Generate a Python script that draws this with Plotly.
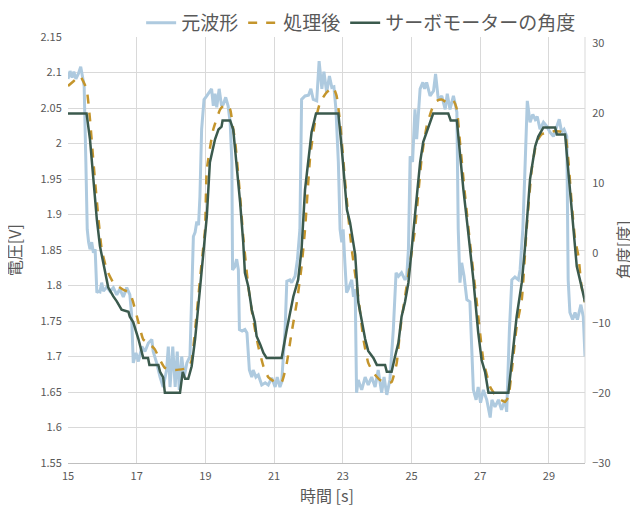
import plotly.graph_objects as go

# ---- data ----
raw_t = [15.00,15.06,15.12,15.17,15.23,15.30,15.37,15.43,15.47,15.52,15.56,15.60,15.64,15.69,15.74,15.79,
         15.84,15.88,15.93,15.98,16.03,16.13,16.22,16.32,16.42,16.51,16.61,16.71,16.80,16.85,16.90,16.98,
         17.05,17.15,17.24,17.34,17.44,17.48,17.58,17.68,17.77,17.87,17.92,17.97,18.05,18.12,18.18,18.24,
         18.31,18.38,18.46,18.55,18.60,18.65,18.70,18.75,18.80,18.84,18.89,18.96,19.04,19.13,19.18,19.23,
         19.28,19.33,19.40,19.47,19.52,19.59,19.66,19.72,19.77,19.79,19.85,19.91,19.96,19.99,20.07,20.15,
         20.21,20.28,20.35,20.39,20.47,20.54,20.64,20.74,20.83,20.93,21.03,21.09,21.17,21.22,21.32,21.37,
         21.46,21.51,21.61,21.68,21.75,21.80,21.90,22.00,22.07,22.14,22.24,22.31,22.39,22.45,22.53,22.61,
         22.68,22.74,22.80,22.87,22.92,22.97,23.01,23.06,23.11,23.16,23.26,23.31,23.36,23.40,23.45,23.55,
         23.65,23.74,23.84,23.94,24.03,24.13,24.20,24.28,24.37,24.47,24.55,24.62,24.71,24.81,24.86,24.91,
         24.96,25.03,25.10,25.15,25.20,25.25,25.33,25.38,25.44,25.54,25.64,25.70,25.78,25.88,25.98,26.04,
         26.12,26.22,26.32,26.36,26.41,26.46,26.53,26.61,26.70,26.80,26.88,26.94,27.01,27.09,27.19,27.29,
         27.34,27.43,27.53,27.62,27.72,27.77,27.85,27.92,28.01,28.11,28.16,28.24,28.30,28.37,28.45,28.53,
         28.60,28.66,28.74,28.84,28.94,29.03,29.13,29.23,29.30,29.37,29.44,29.52,29.56,29.61,29.69,29.76,
         29.83,29.93,30.00,30.05]
raw_v = [2.091,2.102,2.093,2.101,2.091,2.098,2.108,2.091,2.081,1.974,1.879,1.861,1.851,1.861,1.846,1.851,
         1.790,1.792,1.791,1.804,1.792,1.798,1.792,1.797,1.787,1.795,1.784,1.797,1.787,1.760,1.691,1.705,
         1.693,1.714,1.707,1.719,1.724,1.707,1.691,1.671,1.657,1.681,1.714,1.657,1.714,1.657,1.707,1.653,
         1.700,1.671,1.691,1.700,1.784,1.869,1.875,1.890,1.885,1.925,2.020,2.062,2.067,2.074,2.077,2.053,
         2.070,2.051,2.077,2.053,2.055,2.065,2.053,2.030,1.974,1.822,1.826,1.837,1.822,1.738,1.736,1.738,
         1.733,1.681,1.671,1.681,1.671,1.674,1.660,1.663,1.660,1.670,1.657,1.671,1.657,1.664,1.738,1.806,
         1.808,1.804,1.813,1.837,1.879,2.062,2.067,2.068,2.077,2.062,2.060,2.116,2.077,2.101,2.072,2.095,
         2.079,2.080,2.048,1.974,1.879,1.861,1.879,1.832,1.790,1.795,1.808,1.784,1.795,1.649,1.667,1.653,
         1.671,1.660,1.671,1.657,1.681,1.649,1.671,1.646,1.667,1.738,1.818,1.813,1.818,1.808,1.812,1.851,
         1.982,1.974,2.048,2.006,2.048,2.077,2.086,2.077,2.086,2.067,2.074,2.098,2.062,2.067,2.048,2.070,
         2.048,2.067,2.044,1.879,1.804,1.832,1.813,1.780,1.777,1.653,1.639,1.657,1.635,1.653,1.639,1.614,
         1.639,1.629,1.639,1.625,1.639,1.622,1.738,1.808,1.812,1.808,1.822,1.879,1.960,2.060,2.030,2.041,
         2.034,2.038,2.020,2.030,2.024,2.016,2.010,2.024,2.034,2.016,2.020,2.010,1.808,1.762,1.752,1.762,
         1.752,1.773,1.756,1.700]

proc_t = [15.00,15.17,15.35,15.54,15.64,15.74,15.88,15.98,16.13,16.32,16.61,16.80,16.90,17.05,17.19,17.39,
          17.53,17.68,17.82,18.12,18.50,18.60,18.75,18.89,18.99,19.04,19.23,19.43,19.57,19.72,19.81,19.86,
          20.01,20.10,20.25,20.39,20.54,20.69,20.83,21.03,21.22,21.37,21.51,21.66,21.80,21.90,22.05,22.19,
          22.34,22.53,22.72,22.82,22.92,23.06,23.16,23.26,23.45,23.60,23.74,23.89,24.08,24.28,24.42,24.57,
          24.67,24.81,24.96,25.10,25.30,25.44,25.59,25.73,25.88,26.02,26.22,26.32,26.41,26.56,26.70,26.90,
          27.09,27.29,27.48,27.72,27.82,27.92,28.06,28.21,28.35,28.50,28.64,28.79,29.03,29.32,29.47,29.57,
          29.66,29.76,29.86,29.95,30.05]
proc_v = [2.081,2.088,2.095,2.077,2.034,1.974,1.897,1.851,1.822,1.804,1.794,1.790,1.776,1.748,1.724,1.717,
          1.710,1.695,1.684,1.681,1.684,1.695,1.762,1.832,1.879,1.963,2.020,2.048,2.055,2.048,2.020,2.006,
          1.926,1.869,1.798,1.752,1.714,1.686,1.671,1.664,1.664,1.691,1.734,1.776,1.827,1.879,1.982,2.030,
          2.058,2.072,2.079,2.067,2.030,1.950,1.897,1.851,1.784,1.724,1.691,1.677,1.667,1.663,1.664,1.691,
          1.738,1.784,1.832,1.879,1.982,2.024,2.048,2.060,2.062,2.058,2.060,2.048,2.002,1.926,1.861,1.776,
          1.695,1.657,1.643,1.636,1.643,1.681,1.742,1.780,1.879,1.964,2.002,2.013,2.017,2.017,2.013,1.974,
          1.917,1.865,1.841,1.798,1.776]

servo_t = [15.00,15.54,15.64,15.74,15.84,15.93,16.03,16.17,16.32,16.42,16.56,16.76,16.80,16.90,17.05,17.15,
           17.19,17.33,17.37,17.63,17.68,17.77,17.82,18.26,18.34,18.41,18.50,18.60,18.70,18.84,18.99,19.04,
           19.13,19.28,19.38,19.47,19.50,19.72,19.81,19.91,20.01,20.10,20.15,20.25,20.35,20.44,20.49,20.59,
           20.69,20.78,21.22,21.37,21.46,21.56,21.70,21.80,21.90,22.00,22.09,22.22,22.87,22.97,23.12,23.21,
           23.36,23.45,23.55,23.65,23.74,23.89,23.99,24.23,24.28,24.42,24.52,24.62,24.71,24.81,24.91,25.01,
           25.10,25.25,25.34,25.44,25.54,25.63,26.07,26.14,26.32,26.41,26.51,26.65,26.80,26.94,27.04,27.14,
           27.24,27.82,27.92,28.06,28.21,28.30,28.45,28.60,28.69,28.84,29.18,29.23,29.47,29.56,29.66,29.76,
           29.81,29.95,30.05]
servo_deg = [20,20,16.3,10.1,4.8,1.0,-1.4,-4.9,-6.2,-6.9,-8.1,-8.4,-9.1,-9.9,-12.3,-14.5,
             -15,-15,-16,-16,-17,-17.8,-20,-20,-17,-18,-18,-16.2,-12.3,-5.2,2.4,5.2,
             13.0,16.3,17.7,18.1,19,19,17.7,13.0,7.3,1.6,-2.8,-4.8,-8.1,-9.9,-11.9,-13.0,
             -14.3,-15,-15,-10.9,-8.5,-6.2,-3.8,0.6,9.1,13.9,17.3,20,20,14.9,6.2,4.4,
             -0.2,-7.0,-9.9,-12.3,-14.0,-15,-16,-16,-17,-17,-14.8,-12.8,-9.1,-7.0,-4.2,0.6,
             4.8,13.0,15.9,17.3,18.7,20,20,19,19,13.9,9.1,3.0,-3.8,-11.3,-15.3,-17,
             -20,-20,-15.7,-9.1,-4.2,0.6,10.6,15.3,16.7,18,18,17,17,12.0,6.2,1.6,
             -1.9,-4.8,-7.0]

x_ticks = [15, 17, 19, 21, 23, 25, 27, 29]
y2_ticks = [-30, -20, -10, 0, 10, 20, 30]
series_names = ["元波形", "処理後", "サーボモーターの角度"]
x_title, y_title, y2_title = "時間 [s]", "電圧[V]", "角度[度]"

FONT = "Noto Sans CJK JP"
GRAY = "#595959"
CLEAR = "rgba(0,0,0,0)"

fig = go.Figure()
fig.add_trace(go.Scatter(x=raw_t, y=raw_v, name=series_names[0], mode="lines",
                         line=dict(color="#aecadf", width=3)))
fig.add_trace(go.Scatter(x=proc_t, y=proc_v, name=series_names[1], mode="lines",
                         line=dict(color="#c4952c", width=2.5, dash="dash", shape="spline", smoothing=0.4)))
fig.add_trace(go.Scatter(x=servo_t, y=servo_deg, name=series_names[2], mode="lines", yaxis="y2",
                         line=dict(color="#3b5a4d", width=2.5)))

# page body has an 8px margin, so the figure is 630x497 and sits at (8, 8)
fig.update_layout(
    width=630, height=497,
    margin=dict(l=60, r=53, t=29, b=42, autoexpand=False),
    paper_bgcolor="white", plot_bgcolor="white",
    font=dict(family=FONT, color=GRAY, size=11),
    showlegend=True,
    legend=dict(orientation="h", x=0.567, xanchor="center", y=1.033, yanchor="middle",
                font=dict(size=19, color=GRAY, family=FONT), itemwidth=30,
                bgcolor=CLEAR),
    xaxis=dict(range=[15, 30.05], tickmode="array", tickvals=x_ticks, automargin=False,
               showgrid=True, gridcolor="#d9d9d9", gridwidth=1,
               showline=True, linecolor="#bfbfbf", linewidth=1, mirror=False,
               ticks="outside", ticklen=3, tickcolor=CLEAR,
               tickfont=dict(size=11, color=GRAY), zeroline=False),
    yaxis=dict(range=[1.55, 2.15], dtick=0.05, tick0=1.55, automargin=False,
               showgrid=True, gridcolor="#d9d9d9", gridwidth=1, zeroline=False,
               ticks="outside", ticklen=3, tickcolor=CLEAR, tickfont=dict(size=11, color=GRAY)),
    yaxis2=dict(range=[-30.05, 30.95], tickmode="array", tickvals=y2_ticks, overlaying="y", side="right",
                automargin=False, showgrid=False, zeroline=False,
                ticks="outside", ticklen=4, tickcolor=CLEAR,
                tickfont=dict(size=11, color=GRAY)),
)
title_font = dict(size=16, color=GRAY, family=FONT)
fig.add_annotation(text=x_title, xref="paper", yref="paper", x=0.5, y=-0.075,
                   xanchor="center", yanchor="middle", showarrow=False, font=title_font)
fig.add_annotation(text=y_title, xref="paper", yref="paper", x=-0.104, y=0.5, textangle=-90,
                   xanchor="center", yanchor="middle", showarrow=False, font=title_font)
fig.add_annotation(text=y2_title, xref="paper", yref="paper", x=1.074, y=0.5, textangle=-90,
                   xanchor="center", yanchor="middle", showarrow=False, font=title_font)
# right plot border like the reference
fig.add_shape(type="line", xref="paper", yref="paper", x0=1, x1=1, y0=0, y1=1,
              line=dict(color="#d9d9d9", width=1))

fig.write_html("out.html")
